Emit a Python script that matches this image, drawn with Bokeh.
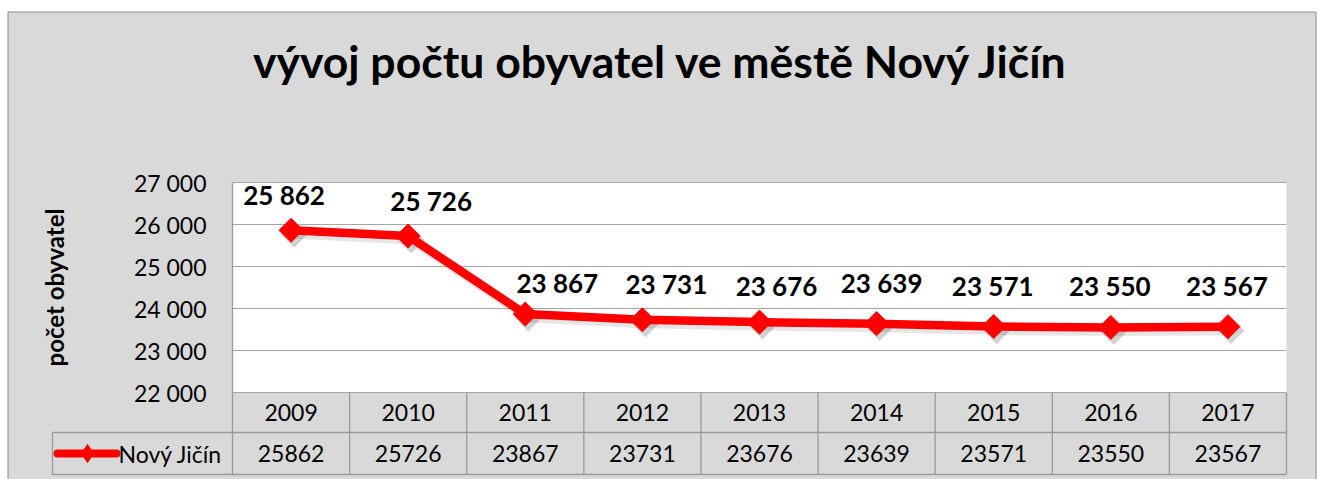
import math
from bokeh.plotting import figure
from bokeh.models import Range1d, FixedTicker, LinearAxis, ColumnDataSource
from bokeh.embed import file_html
from bokeh.resources import INLINE
from bokeh.core.properties import value

# ---------------- data ----------------
title_text = "vývoj počtu obyvatel ve městě Nový Jičín"
y_axis_title = "počet obyvatel"
series_name = "Nový Jičín"
years = ["2009", "2010", "2011", "2012", "2013", "2014", "2015", "2016", "2017"]
population = [25862, 25726, 23867, 23731, 23676, 23639, 23571, 23550, 23567]
y_ticks = [22000, 23000, 24000, 25000, 26000, 27000]
y_tick_labels = ["22 000", "23 000", "24 000", "25 000", "26 000", "27 000"]
data_labels = ["25 862", "25 726", "23 867", "23 731", "23 676", "23 639", "23 571", "23 550", "23 567"]
table_values = ["25862", "25726", "23867", "23731", "23676", "23639", "23571", "23550", "23567"]

# ---------------- styles / layout ----------------
label_dx = [-7, 23, 32, 24, 17, 5, -1, -1, -1]      # px offsets of the data labels (manual placement)
label_dy = [-35, -35, -31, -36, -36, -41, -41, -41, -41]

BG = "#d9d9d9"
GRID = "#a6a6a6"
TABLE = "#9a9a9a"
BORDER = "#8a8a8a"
RED = "#ff0000"
FONT = "Lato"

W, H = 1319, 479
PA_L, PA_R, PA_T, PA_B = 232, 1286, 182, 392   # plot area (px)
ROW1_B, ROW2_B = 432, 474                      # data table row bottoms (px)
LEG_L = 52

n = len(years)
xs = list(range(1, n + 1))
col_w = (PA_R - PA_L) / n
ppu = (PA_B - PA_T) / (y_ticks[-1] - y_ticks[0])


def px2x(px):
    return 0.5 + (px - PA_L) / col_w


def py2y(py):
    return y_ticks[-1] - (py - PA_T) / ppu


p = figure(
    width=W, height=H, title=None,
    x_range=Range1d(px2x(0), px2x(W)),
    y_range=Range1d(py2y(H), py2y(0)),
    output_backend="svg", toolbar_location=None,
    x_axis_location=None, y_axis_location=None,
    min_border_left=0, min_border_right=0, min_border_top=0, min_border_bottom=0,
    background_fill_color="white", border_fill_color="white",
    outline_line_color=None,
)
p.grid.visible = False

# chart area and plot area backgrounds
p.quad(left=[px2x(7.5)], right=[px2x(1315.5)], top=[py2y(11.5)], bottom=[py2y(H + 20)],
       fill_color=BG, line_color=BORDER, line_width=1, level="image")
p.quad(left=[0.5], right=[n + 0.5], top=[y_ticks[-1]], bottom=[y_ticks[0]],
       fill_color="white", line_color=None, level="image")

# horizontal gridlines
p.segment(x0=[0.5] * len(y_ticks), x1=[n + 0.5] * len(y_ticks), y0=y_ticks, y1=y_ticks,
          line_color=GRID, line_width=1.2)

# y axis at the plot-area edge
ticker = FixedTicker(ticks=y_ticks)
ax = LinearAxis(fixed_location=0.5, bounds=(y_ticks[0], y_ticks[-1]), ticker=ticker)
ax.major_label_overrides = dict(zip(y_ticks, y_tick_labels))
ax.major_tick_line_color = None
ax.minor_tick_line_color = None
ax.major_tick_in = 0
ax.major_tick_out = 0
ax.major_label_standoff = 26
ax.major_label_text_font = FONT
ax.major_label_text_font_size = "23px"
ax.major_label_text_color = "black"
ax.axis_line_color = TABLE
ax.axis_line_width = 1.3
ax.axis_label = y_axis_title
ax.axis_label_text_font = FONT
ax.axis_label_text_font_size = "24px"
ax.axis_label_text_font_style = "bold"
ax.axis_label_text_color = "black"
ax.axis_label_standoff = 62
p.add_layout(ax, "left")

# series
src = ColumnDataSource(dict(x=xs, y=population, lab=data_labels, dx=label_dx, dy=label_dy))
shadow = ColumnDataSource(dict(x=[v + 3 / col_w for v in xs], y=[v - 4 / ppu for v in population]))
p.line("x", "y", source=shadow, line_width=9, line_color="#303030", line_alpha=0.12,
       line_join="round", line_cap="round")
p.scatter("x", "y", source=shadow, marker="square", angle=math.pi / 4, size=19,
          fill_color="#303030", fill_alpha=0.22, line_color=None)
p.line("x", "y", source=src, line_width=8.5, line_color=RED, line_join="round", line_cap="round")
p.scatter("x", "y", source=src, marker="square", angle=math.pi / 4, size=17,
          fill_color=RED, line_color=RED)
p.text("x", "y", text="lab", source=src, x_offset="dx", y_offset="dy",
       text_align="center", text_baseline="alphabetic",
       text_font=value(FONT), text_font_style="bold", text_font_size="26px", text_color="black")

# title
p.text(x=[px2x((255 + 1066) / 2)], y=[py2y(60)], text=[title_text],
       text_align="center", text_baseline="alphabetic",
       text_font=value(FONT), text_font_style="bold", text_font_size="44.5px", text_color="black")

# data table
leg_x = px2x(LEG_L)
y_r1 = py2y(ROW1_B)
y_r2 = py2y(ROW2_B)
p.segment(x0=[leg_x, leg_x], x1=[n + 0.5, n + 0.5], y0=[y_r1, y_r2], y1=[y_r1, y_r2],
          line_color=TABLE, line_width=1.3)
vx = [k + 0.5 for k in range(n + 1)]
p.segment(x0=vx, x1=vx, y0=[y_r2] * len(vx), y1=[y_ticks[0]] * len(vx),
          line_color=TABLE, line_width=1.3)
p.segment(x0=[leg_x], x1=[leg_x], y0=[y_r2], y1=[y_r1], line_color=TABLE, line_width=1.3)

p.text(x=xs, y=[(y_ticks[0] + y_r1) / 2] * n, text=years, text_align="center",
       text_baseline="middle", text_font=value(FONT), text_font_size="23px", text_color="black")
p.text(x=xs, y=[(y_r1 + y_r2) / 2] * n, text=table_values, text_align="center",
       text_baseline="middle", text_font=value(FONT), text_font_size="23px", text_color="black")

# legend key
y_leg = (y_r1 + y_r2) / 2
p.line(x=[px2x(57), px2x(116)], y=[y_leg, y_leg], line_width=8, line_color=RED, line_cap="round")
p.scatter(x=[px2x(87)], y=[y_leg], marker="diamond", size=18, fill_color=RED, line_color=RED)
p.text(x=[px2x(118)], y=[y_leg], text=[series_name], text_align="left", text_baseline="middle",
       text_font=value(FONT), text_font_size="23px", text_color="black")

open("out.html", "w").write(file_html(p, INLINE))
